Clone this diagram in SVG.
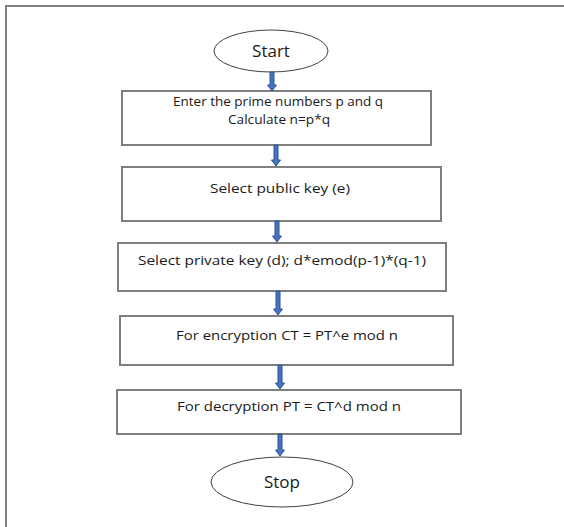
<svg xmlns="http://www.w3.org/2000/svg" width="564" height="527" viewBox="0 0 564 527">
<style>
.frame{stroke:#808080;stroke-width:2;fill:none}
.box{fill:#ffffff;stroke:#7f7f7f;stroke-width:2}
.term{fill:#ffffff;stroke:#404040;stroke-width:1}
.t{font-family:"Open Sans","Liberation Sans",sans-serif;font-size:13px;fill:#1a1a1a;text-anchor:middle}
.tt{font-family:"Open Sans","Liberation Sans",sans-serif;font-size:17px;fill:#1a1a1a;text-anchor:middle}
.arr{fill:#4472c4;stroke:#2f528f;stroke-width:1}
</style>
<rect x="0" y="0" width="564" height="527" fill="#ffffff"/>
<path class="frame" d="M6,527 V6 H564"/>
<g id="start">
<ellipse class="term" cx="271" cy="51" rx="57" ry="21"/>
<text class="tt" x="271" y="57">Start</text>
</g>
<g id="step1">
<rect class="box" x="122" y="91" width="309" height="54"/>
<text class="t" x="278" y="106" textLength="210" lengthAdjust="spacingAndGlyphs">Enter the prime numbers p and q</text>
<text class="t" x="279" y="124" textLength="102" lengthAdjust="spacingAndGlyphs">Calculate n=p*q</text>
</g>
<g id="step2">
<rect class="box" x="122" y="167" width="319" height="54"/>
<text class="t" x="280" y="193" textLength="140" lengthAdjust="spacingAndGlyphs">Select public key (e)</text>
</g>
<g id="step3">
<rect class="box" x="118" y="243" width="328" height="48"/>
<text class="t" x="282" y="265" textLength="288" lengthAdjust="spacingAndGlyphs">Select private key (d); d*emod(p-1)*(q-1)</text>
</g>
<g id="step4">
<rect class="box" x="120" y="316" width="333" height="49"/>
<text class="t" x="287" y="340" textLength="222" lengthAdjust="spacingAndGlyphs">For encryption CT = PT^e mod n</text>
</g>
<g id="step5">
<rect class="box" x="117" y="390" width="344" height="44"/>
<text class="t" x="289" y="411" textLength="224" lengthAdjust="spacingAndGlyphs">For decryption PT = CT^d mod n</text>
</g>
<g id="stop">
<ellipse class="term" cx="282" cy="482" rx="71" ry="25"/>
<text class="tt" x="282" y="488">Stop</text>
</g>
<g id="connectors">
<polygon class="arr" points="270,72 274,72 274,85 276.5,85 272,91 267.5,85 270,85"/>
<polygon class="arr" points="274,145 278,145 278,160 280.5,160 276,166 271.5,160 274,160"/>
<polygon class="arr" points="275,221 279,221 279,236 281.5,236 277,242 272.5,236 275,236"/>
<polygon class="arr" points="276,291 280,291 280,309 282.5,309 278,315 273.5,309 276,309"/>
<polygon class="arr" points="278,365 282,365 282,383 284.5,383 280,389 275.5,383 278,383"/>
<polygon class="arr" points="278,434 282,434 282,450 284.5,450 280,456 275.5,450 278,450"/>
</g>
</svg>
